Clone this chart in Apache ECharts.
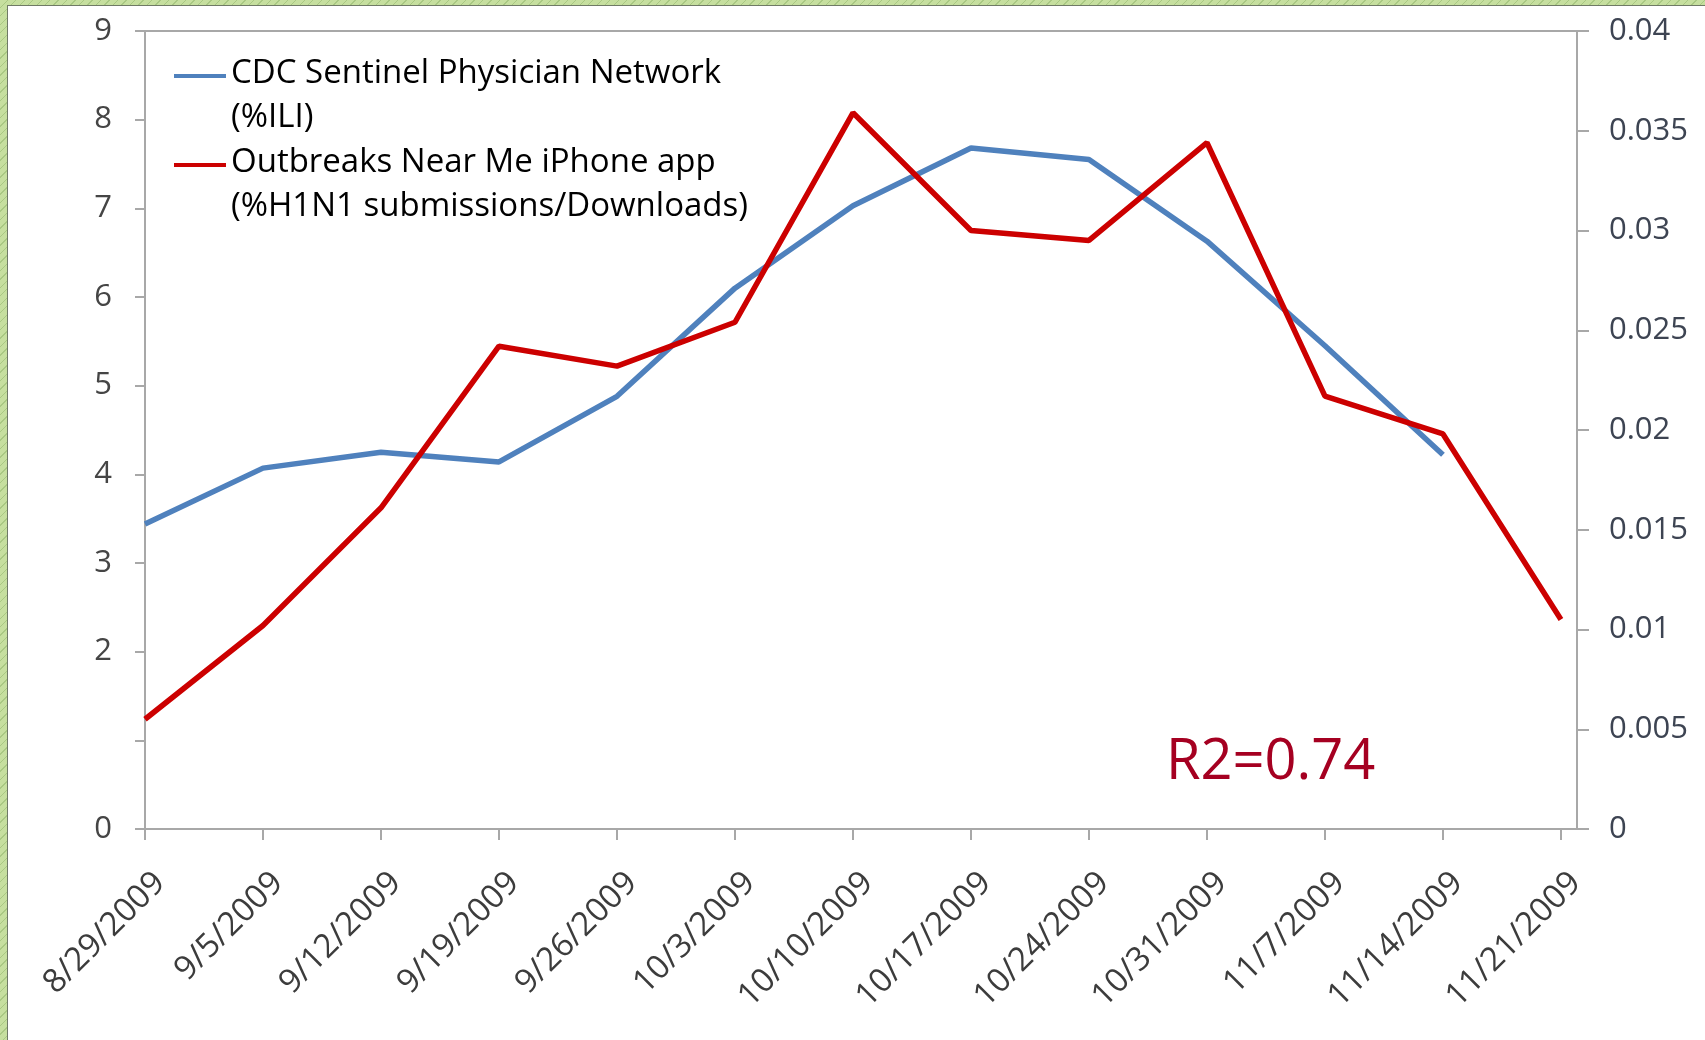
<!DOCTYPE html>
<html>
<head>
<meta charset="utf-8">
<script src="https://cdn.jsdelivr.net/npm/echarts@6/dist/echarts.min.js"></script>
<style>
  html, body { margin: 0; padding: 0; width: 1705px; height: 1040px; overflow: hidden; }
  body {
    background: repeating-linear-gradient(135deg, #c6df9f 0px, #c6df9f 5px, #a9c883 5px, #a9c883 6px);
    position: relative;
  }
  #paper { position: absolute; left: 7px; top: 5px; right: 0; bottom: 0; background: #fff;
           border-left: 1px solid #6f7a66; border-top: 1px solid #6f7a66; }
  #chart { position: absolute; left: 0; top: 0; width: 1705px; height: 1040px; }
</style>
</head>
<body>
<div id="paper"></div>
<div id="chart"></div>
<script>
// ---- data ----
const weeks = ['8/29/2009','9/5/2009','9/12/2009','9/19/2009','9/26/2009','10/3/2009','10/10/2009',
               '10/17/2009','10/24/2009','10/31/2009','11/7/2009','11/14/2009','11/21/2009'];
const cdcILI = [3.44, 4.07, 4.25, 4.14, 4.88, 6.10, 7.03, 7.68, 7.55, 6.63, 5.45, 4.22, null];
const outbreaksApp = [0.0055, 0.0102, 0.0161, 0.0242, 0.0232, 0.0254, 0.0359, 0.0300, 0.0295, 0.0344, 0.0217, 0.0198, 0.0105];
const leftTicks = [0, 1, 2, 3, 4, 5, 6, 7, 8, 9];
const hiddenLeftLabels = [1];
const seriesNames = ['CDC Sentinel Physician Network\n(%ILI)', 'Outbreaks Near Me iPhone app\n(%H1N1 submissions/Downloads)'];
const annotation = 'R2=0.74';

const weekIdx = weeks.map((w, i) => i);
const chart = echarts.init(document.getElementById('chart'), null, { renderer: 'canvas' });
const axisGrey = '#a8a8a8';
const FONT = '"Open Sans", "Noto Sans", sans-serif';
const legendIcon = 'path://M0 0H52V4H0Z M0 44H0.01V44.01H0Z';

chart.setOption({
  backgroundColor: 'transparent',
  animation: false,
  grid: { left: 145, top: 31, width: 1432, height: 798, show: true, borderColor: axisGrey, borderWidth: 2, backgroundColor: 'transparent' },
  legend: {
    orient: 'vertical', left: 169, top: 47, itemGap: 1, itemWidth: 52, itemHeight: 44,
    icon: legendIcon,
    textStyle: { fontFamily: FONT, fontSize: 33, color: '#000', lineHeight: 44 },
    itemStyle: { borderWidth: 0 },
    data: seriesNames
  },
  xAxis: {
    type: 'value', min: 0, max: 12.136, interval: 1,
    splitLine: { show: false },
    axisLine: { show: true, onZero: false, lineStyle: { color: axisGrey, width: 2 } },
    axisTick: { show: true, inside: false, length: 11, customValues: weekIdx, lineStyle: { color: axisGrey, width: 2 } },
    axisLabel: {
      customValues: weekIdx, rotate: 45, align: 'right', verticalAlign: 'top', lineHeight: 42, margin: 34,
      fontFamily: FONT, fontSize: 33, color: '#3c3c3c',
      formatter: v => weeks[Math.round(v)] || ''
    }
  },
  yAxis: [
    {
      type: 'value', min: 0, max: 9, interval: 1, position: 'left',
      splitLine: { show: false },
      axisLine: { show: true, lineStyle: { color: axisGrey, width: 2 } },
      axisTick: { show: true, inside: false, length: 10, lineStyle: { color: axisGrey, width: 2 } },
      axisLabel: { margin: 33, fontFamily: FONT, fontSize: 31, color: '#454545',
        formatter: v => hiddenLeftLabels.includes(v) ? '' : String(v) }
    },
    {
      type: 'value', min: 0, max: 0.04, interval: 0.005, position: 'right',
      splitLine: { show: false },
      axisLine: { show: true, lineStyle: { color: axisGrey, width: 2 } },
      axisTick: { show: true, inside: false, length: 12, lineStyle: { color: axisGrey, width: 2 } },
      axisLabel: { margin: 32, fontFamily: FONT, fontSize: 31, color: '#3d4452',
        formatter: v => String(+v.toFixed(3)) }
    }
  ],
  series: [
    {
      name: seriesNames[0], type: 'line', yAxisIndex: 0, showSymbol: false, symbol: 'none',
      lineStyle: { color: '#4f81bd', width: 5.5 }, itemStyle: { color: '#4f81bd' },
      data: cdcILI.map((v, i) => [weekIdx[i], v])
    },
    {
      name: seriesNames[1], type: 'line', yAxisIndex: 1, showSymbol: false, symbol: 'none',
      lineStyle: { color: '#cc0000', width: 5.5 }, itemStyle: { color: '#cc0000' },
      data: outbreaksApp.map((v, i) => [weekIdx[i], v])
    }
  ],
  graphic: [
    { type: 'text', left: 1166, top: 735, style: { text: annotation, font: '56px ' + FONT, fill: '#a50021' } }
  ]
});
</script>
</body>
</html>
